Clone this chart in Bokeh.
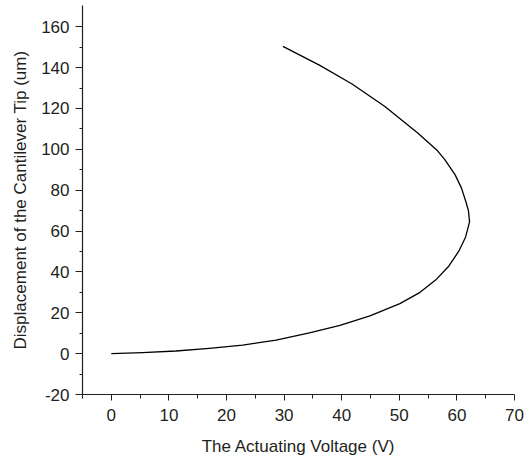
from bokeh.plotting import figure
from bokeh.models import Range1d, FixedTicker
from bokeh.embed import file_html
from bokeh.resources import INLINE

# Data
voltage = [0, 5.4, 11.2, 17.0, 22.8, 28.6, 34.4, 39.7, 44.9, 50.1, 53.6, 56.3, 58.5, 60.3,
           61.5, 62.2, 62.0, 61.6, 60.8, 59.7, 57.9, 56.5, 53.2, 47.5, 41.8, 36.2, 29.8]
displacement = [0, 0.5, 1.3, 2.6, 4.2, 6.6, 10.2, 13.8, 18.5, 24.5, 30.0, 36.0, 42.5, 50.0,
                57.0, 64.5, 70.0, 74.0, 81.0, 87.5, 95.0, 99.7, 108.0, 121.0, 132.0, 141.1, 150.4]

x_ticks = [0, 10, 20, 30, 40, 50, 60, 70]
x_minor = [-5, 5, 15, 25, 35, 45, 55, 65]
y_ticks = [-20, 0, 20, 40, 60, 80, 100, 120, 140, 160]
y_minor = [-10, 10, 30, 50, 70, 90, 110, 130, 150]

FONT = "Liberation Sans"
TXT = "#231f20"

p = figure(width=529, height=458, output_backend="svg", toolbar_location=None,
           x_range=Range1d(-5, 70), y_range=Range1d(-20, 170.4),
           min_border_left=82, min_border_right=15, min_border_top=5, min_border_bottom=63)
p.outline_line_color = None
p.xgrid.visible = False
p.ygrid.visible = False

p.line(voltage, displacement, line_color="black", line_width=1.3, line_join="round")

p.xaxis.ticker = FixedTicker(ticks=x_ticks, minor_ticks=x_minor)
p.yaxis.ticker = FixedTicker(ticks=y_ticks, minor_ticks=y_minor)
p.yaxis.major_label_overrides = {-20: "-20"}

for ax in (p.xaxis, p.yaxis):
    ax.axis_line_color = TXT
    ax.axis_line_width = 1.2
    ax.major_tick_line_color = TXT
    ax.minor_tick_line_color = TXT
    ax.major_tick_in = 0
    ax.minor_tick_in = 0
    ax.major_label_text_font = FONT
    ax.major_label_text_font_size = "17px"
    ax.major_label_text_color = TXT
    ax.axis_label_text_font = FONT
    ax.axis_label_text_font_size = "17px"
    ax.axis_label_text_font_style = "normal"
    ax.axis_label_text_color = TXT

p.xaxis.major_tick_out = 6
p.xaxis.minor_tick_out = 4
p.yaxis.major_tick_out = 7
p.yaxis.minor_tick_out = 3
p.xaxis.major_label_standoff = 8
p.yaxis.major_label_standoff = 6
p.xaxis.axis_label = "The Actuating Voltage (V)"
p.yaxis.axis_label = "Displacement of the Cantilever Tip (um)"
p.xaxis.axis_label_standoff = 13
p.yaxis.axis_label_standoff = 8

open("out.html", "w").write(file_html(p, INLINE))
